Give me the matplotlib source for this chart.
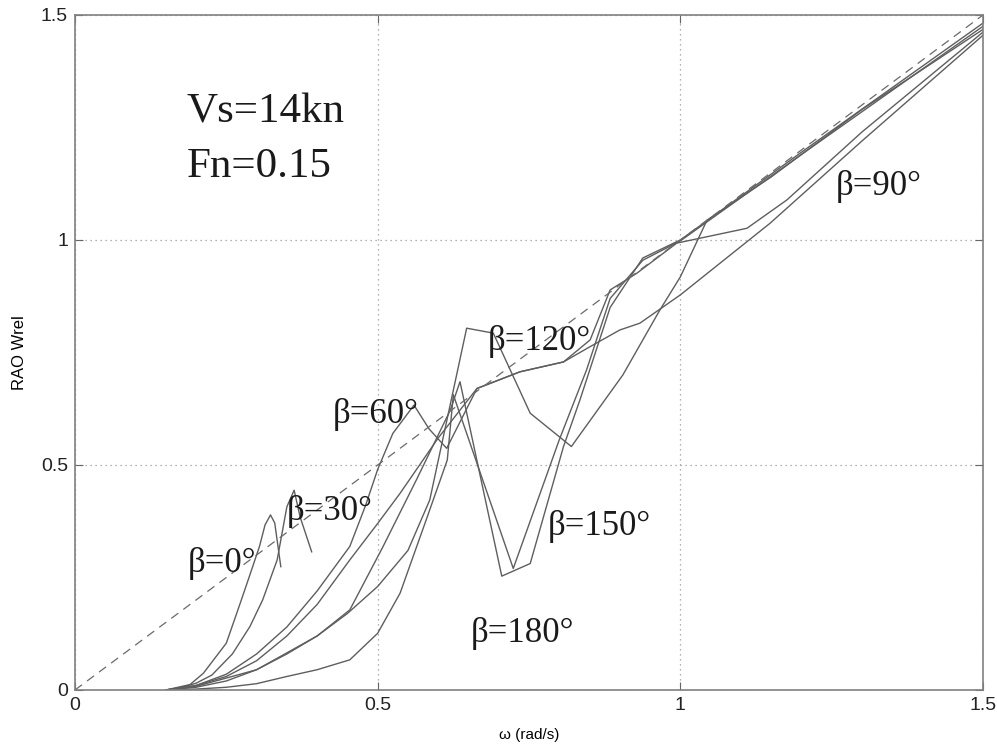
import matplotlib
matplotlib.use("Agg")
import matplotlib.pyplot as plt

# Wave frequency (rad/s) and relative-motion RAO for each heading
w_b0 = [0.15, 0.19, 0.212, 0.25, 0.273, 0.29, 0.305, 0.314, 0.323, 0.33, 0.34]
r_b0 = [0.0, 0.012, 0.037, 0.104, 0.193, 0.26, 0.32, 0.367, 0.389, 0.371, 0.274]

w_b30 = [0.16, 0.2, 0.226, 0.26, 0.289, 0.31, 0.334, 0.35, 0.362, 0.372, 0.391]
r_b30 = [0.0, 0.015, 0.033, 0.08, 0.141, 0.2, 0.289, 0.407, 0.444, 0.384, 0.307]

w_b60 = [0.15, 0.2, 0.25, 0.3, 0.35, 0.4, 0.454, 0.48, 0.5, 0.525, 0.56, 0.585, 0.614,
         0.664, 0.735, 0.807, 0.851, 0.884, 0.928, 0.994, 1.11, 1.176, 1.3, 1.5]
r_b60 = [0.0, 0.01, 0.035, 0.08, 0.14, 0.22, 0.319, 0.41, 0.49, 0.57, 0.633, 0.58, 0.537,
         0.67, 0.707, 0.729, 0.778, 0.889, 0.926, 0.993, 1.026, 1.089, 1.24, 1.462]

w_b90 = [0.15, 0.2, 0.25, 0.3, 0.35, 0.4, 0.454, 0.5, 0.537, 0.6, 0.664, 0.735, 0.807,
         0.851, 0.9, 0.933, 1.0, 1.148, 1.3, 1.5]
r_b90 = [0.0, 0.01, 0.03, 0.065, 0.12, 0.19, 0.289, 0.37, 0.437, 0.56, 0.67, 0.707, 0.729,
         0.763, 0.8, 0.815, 0.878, 1.037, 1.22, 1.455]

w_b120 = [0.15, 0.2, 0.3, 0.4, 0.45, 0.5, 0.55, 0.586, 0.647, 0.691, 0.752, 0.82, 0.905,
          0.966, 1.0, 1.044, 1.15, 1.3, 1.5]
r_b120 = [0.0, 0.008, 0.045, 0.12, 0.17, 0.23, 0.31, 0.422, 0.804, 0.793, 0.615, 0.541, 0.70,
          0.844, 0.918, 1.044, 1.14, 1.29, 1.468]

w_b150 = [0.15, 0.2, 0.25, 0.3, 0.35, 0.4, 0.454, 0.509, 0.564, 0.62, 0.636, 0.705, 0.752,
          0.807, 0.834, 0.884, 0.938, 1.0, 1.2, 1.5]
r_b150 = [0.0, 0.006, 0.02, 0.045, 0.08, 0.12, 0.178, 0.319, 0.467, 0.622, 0.685, 0.253, 0.281,
          0.541, 0.644, 0.85, 0.96, 1.0, 1.195, 1.482]

w_b180 = [0.15, 0.2, 0.25, 0.3, 0.35, 0.4, 0.454, 0.5, 0.537, 0.582, 0.615, 0.625, 0.724,
          0.80, 0.845, 0.884, 0.938, 1.0, 1.2, 1.5]
r_b180 = [0.0, 0.002, 0.006, 0.014, 0.03, 0.045, 0.067, 0.126, 0.215, 0.385, 0.511, 0.656, 0.27,
          0.556, 0.711, 0.87, 0.955, 0.998, 1.19, 1.475]

series = [(w_b0, r_b0), (w_b30, r_b30), (w_b60, r_b60), (w_b90, r_b90),
          (w_b120, r_b120), (w_b150, r_b150), (w_b180, r_b180)]

# Reference line RAO = omega
ref_w = [0.0, 1.5]
ref_r = [0.0, 1.5]

heading_labels = ["β=0°", "β=30°", "β=60°", "β=90°", "β=120°", "β=150°", "β=180°"]
label_pos = [(0.187, 0.262), (0.35, 0.378), (0.426, 0.593), (1.256, 1.100),
             (0.682, 0.756), (0.781, 0.344), (0.653, 0.107)]

xticks = [0, 0.5, 1, 1.5]
xtick_labels = ["0", "0.5", "1", "1.5"]
yticks = [0, 0.5, 1, 1.5]
ytick_labels = ["0", "0.5", "1", "1.5"]

fig = plt.figure(figsize=(9.97, 7.49), dpi=100)
ax = fig.add_axes([0.0752, 0.0788, 0.9108, 0.9012])

line_col = "#5e5e5e"
for w, r in series:
    ax.plot(w, r, color=line_col, linewidth=1.0)
ax.plot(ref_w, ref_r, color="#6a6a6a", linewidth=0.9, linestyle=(0, (7, 5)))

serif = ["Liberation Serif", "DejaVu Serif"]
for txt, (x, y) in zip(heading_labels, label_pos):
    ax.text(x, y, txt, fontsize=25, family=serif, color="#1a1a1a",
            ha="left", va="baseline")

ax.text(0.185, 1.262, "Vs=14kn", fontsize=31, family=serif, color="#1a1a1a", va="baseline")
ax.text(0.185, 1.140, "Fn=0.15", fontsize=31, family=serif, color="#1a1a1a", va="baseline")

ax.set_xlim(0, 1.5)
ax.set_ylim(0, 1.5)
ax.set_xticks(xticks)
ax.set_xticklabels(xtick_labels)
ax.set_yticks(yticks)
ax.set_yticklabels(ytick_labels)
ax.tick_params(direction="in", length=6, color="#666666", labelsize=14,
               labelcolor="#222222", pad=5, top=True, right=True)
for lbl in ax.get_xticklabels() + ax.get_yticklabels():
    lbl.set_family(["Liberation Sans", "DejaVu Sans"])
ax.grid(True, linestyle=(0, (1, 3)), color="#999999", linewidth=0.9)
for s in ax.spines.values():
    s.set_color("#808080")
    s.set_linewidth(1.2)

ax.set_xlabel("ω (rad/s)", fontsize=11, family=["Liberation Sans", "DejaVu Sans"], labelpad=10)
ax.set_ylabel("RAO Wrel", fontsize=12, family=["Liberation Sans", "DejaVu Sans"], labelpad=10)

fig.savefig("out.png", dpi=100)
